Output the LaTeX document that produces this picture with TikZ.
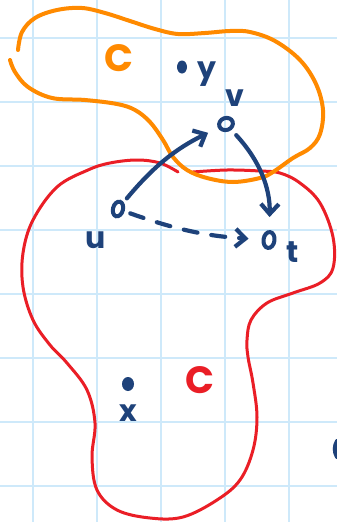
\documentclass[tikz,border=0pt]{standalone}
\usepackage{fontspec}
\setmainfont{Poppins}
\usepackage{tikz}
\usetikzlibrary{arrows.meta,shapes.geometric}

\definecolor{gridblue}{RGB}{206,233,250}
\definecolor{ink}{RGB}{30,66,122}
\definecolor{setorange}{RGB}{255,138,0}
\definecolor{setred}{RGB}{234,30,38}

\begin{document}
\begin{tikzpicture}[x=1pt, y=-1pt,
  vtx/.style={ellipse, draw=ink, line width=4pt, inner sep=0pt},
  dot/.style={ellipse, fill=ink, inner sep=0pt},
  lbl/.style={text=ink, font=\fontsize{30}{30}\selectfont\bfseries, inner sep=0pt},
  setlbl/.style={font=\fontsize{38}{38}\selectfont\bfseries, inner sep=0pt},
  arr/.style={-{Straight Barb[length=10pt,width=18pt]}, draw=ink,
              line width=4.2pt, line cap=round},
]
  \fill[white] (0,0) rectangle (337,522);
  \useasboundingbox (0,0) rectangle (337,522);

  % squared paper
  \foreach \gx in {33,97,161,225,289}
    \draw[gridblue, line width=2pt] (\gx,0) -- (\gx,522);
  \foreach \gy in {38,102,...,486}
    \draw[gridblue, line width=2pt] (0,\gy) -- (337,\gy);

  % the two sets
  \draw[setred, line width=3pt, line cap=round] plot[smooth, tension=0.6] coordinates {
    (178,172) (160,163) (137,160) (110,163) (88,170) (57,187) (33,220)
    (23,253) (23,287) (33,320) (50,345) (67,363) (87,390) (95,423)
    (92,457) (97,490) (117,510) (150,518) (183,517) (217,500) (240,480)
    (253,450) (257,417) (253,383) (248,357) (247,340) (251,320) (267,303)
    (293,293) (320,283) (333,268) (333,237) (320,203) (300,183) (280,173)
    (260,171) (227,170) (193,172)};
  \draw[setorange, line width=4pt, line cap=round] plot[smooth, tension=0.6] coordinates {
    (18,50) (22,32) (35,18) (57,10) (82,8) (105,13) (130,21) (155,29)
    (178,34) (205,33) (230,31) (250,32) (275,41) (300,60) (316,84)
    (323,110) (320,134) (310,148) (293,158) (273,172) (260,178) (233,182)
    (207,178) (187,170) (173,157) (163,140) (150,122) (135,110) (117,104)
    (85,100) (52,98) (28,87) (15,72) (10,60)};

  \node[setlbl, text=setorange] (Corange) at (119,58) {C};
  \node[setlbl, text=setred] (Cred) at (200,380) {C};

  % vertices
  \node[vtx, minimum width=10pt, minimum height=15pt, rotate=-15] (u) at (118,209) {};
  \node[vtx, minimum width=14pt, minimum height=12pt, rotate=20] (v) at (226,124) {};
  \node[vtx, minimum width=11pt, minimum height=16pt, rotate=-8] (t) at (269,240) {};
  \node[dot, minimum width=10pt, minimum height=13pt] (y) at (182,67) {};
  \node[dot, minimum width=12pt, minimum height=14pt] (x) at (128,384) {};

  \node[lbl] (ulab) at (96,240) {u};
  \node[lbl] (vlab) at (235,98) {v};
  \node[lbl] (tlab) at (293,252) {t};
  \node[lbl] (ylab) at (207,74) {y};
  \node[lbl] (xlab) at (128,413) {x};

  \draw[arr, shorten <=5pt, shorten >=11pt] (u) to[bend left=12] (v);
  \draw[arr, shorten <=7pt, shorten >=13pt] (v) to[bend left=22] (t);
  \draw[arr, dash pattern=on 14pt off 14pt, shorten <=6pt, shorten >=13pt]
    (u) to[bend right=8] (t);

  \draw[ink, line width=4pt, line cap=round]
    (337,441) .. controls (334,446) and (334,452) .. (337,457);
\end{tikzpicture}
\end{document}
